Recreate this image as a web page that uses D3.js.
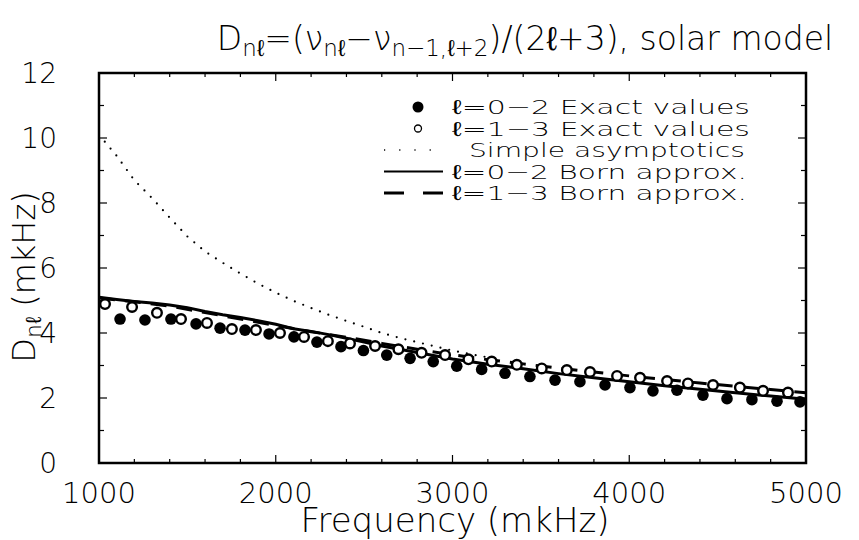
<!DOCTYPE html>
<html>
  <head>
    <meta charset="utf-8" />
    <title>Dnl solar model</title>
    <script src="https://d3js.org/d3.v7.min.js"></script>
    <style>
      body { margin: 0; background: #fff; }
      text { font-family: "DejaVu Sans", sans-serif; font-weight: 200; fill: #000; }
    </style>
  </head>
  <body>
    <svg width="859" height="540"></svg>
    <script>
      // l=0-2 exact values (filled)
      const freqA = [1119,1260,1407,1549,1685,1826,1962,2103,2233,2369,2496,2628,2760,2891,3024,3165,3297,3438,3580,3721,3863,4004,4134,4270,4417,4553,4694,4836,4966];
      const exactA = [4.43,4.40,4.43,4.28,4.15,4.09,3.97,3.88,3.72,3.58,3.46,3.32,3.22,3.12,2.98,2.88,2.76,2.66,2.55,2.50,2.40,2.32,2.22,2.24,2.09,1.98,1.95,1.90,1.88];
      // l=1-3 exact values (open)
      const freqB = [1034,1187,1328,1464,1611,1752,1888,2024,2160,2295,2420,2562,2694,2825,2958,3090,3222,3364,3505,3647,3778,3931,4061,4214,4332,4474,4626,4757,4898];
      const exactB = [4.89,4.80,4.62,4.43,4.31,4.12,4.09,4.00,3.88,3.75,3.68,3.60,3.50,3.39,3.32,3.19,3.12,3.02,2.91,2.86,2.80,2.68,2.62,2.52,2.45,2.40,2.32,2.22,2.17];
      // simple asymptotics (dotted)
      const freqAsym = [1000,1100,1200,1300,1400,1500,1600,1700,1800,1900,2000,2100,2200,2300,2400,2500,2600,2700,2800,2900,3000,3100,3200];
      const asym = [10.1,9.45,8.7,8.15,7.55,6.97,6.51,6.16,5.83,5.52,5.24,4.99,4.77,4.56,4.37,4.19,4.0,3.85,3.72,3.59,3.46,3.35,3.25];
      // Born approximations
      const freqBornA = [1000,1100,1200,1300,1400,1500,1600,1700,1800,1900,2000,2100,2200,2300,2400,2500,2600,2800,3000,3200,3400,3600,3800,4000,4200,4400,4600,4800,5000];
      const bornA = [5.1,5.03,4.97,4.92,4.86,4.78,4.66,4.56,4.48,4.38,4.27,4.13,4.05,3.95,3.84,3.72,3.6,3.4,3.2,3.04,2.9,2.75,2.62,2.5,2.38,2.27,2.16,2.06,1.96];
      const freqBornB = [1000,1200,1400,1600,1800,2000,2200,2400,2600,2800,3000,3200,3400,3600,3800,4000,4200,4400,4600,4800,5000];
      const bornB = [5.08,4.96,4.83,4.63,4.43,4.23,4.04,3.87,3.68,3.5,3.33,3.18,3.05,2.92,2.8,2.68,2.57,2.46,2.36,2.26,2.16];

      const xTicks = [1000,2000,3000,4000,5000];
      const yTicks = [0,2,4,6,8,10,12];

      const svg = d3.select("svg");
      const x = d3.scaleLinear().domain([1000,5000]).range([99,806]);
      const y = d3.scaleLinear().domain([0,12]).range([463,73]);

      const line = (fs, vs) => d3.line().x((d, i) => x(fs[i])).y(d => y(d))(vs);

      // frame
      svg.append("rect")
         .attr("x", 99).attr("y", 73)
         .attr("width", 806 - 99).attr("height", 463 - 73)
         .attr("fill", "none").attr("stroke", "#000").attr("stroke-width", 2.5);

      // ticks (inward) on all four sides
      const g = svg.append("g").attr("stroke", "#000").attr("stroke-width", 1.2);
      d3.range(1200, 5000, 200).forEach(f => {
        const len = xTicks.includes(f) ? 8 : 4;
        g.append("line").attr("x1", x(f)).attr("x2", x(f)).attr("y1", 463).attr("y2", 463 - len);
        g.append("line").attr("x1", x(f)).attr("x2", x(f)).attr("y1", 73).attr("y2", 73 + len);
      });
      d3.range(1, 12, 1).forEach(v => {
        const len = v % 2 === 0 ? 8 : 5;
        g.append("line").attr("x1", 99).attr("x2", 99 + len).attr("y1", y(v)).attr("y2", y(v));
        g.append("line").attr("x1", 806).attr("x2", 806 - len).attr("y1", y(v)).attr("y2", y(v));
      });

      // tick labels
      svg.selectAll(".xl").data(xTicks).enter().append("text")
         .attr("x", d => x(d)).attr("y", 503)
         .attr("text-anchor", "middle").attr("font-size", 29)
         .text(d => d);
      svg.selectAll(".yl").data(yTicks).enter().append("text")
         .attr("x", 57).attr("y", d => y(d) + 10)
         .attr("text-anchor", "end").attr("font-size", 28)
         .text(d => d);

      // axis titles
      svg.append("text").attr("x", 455).attr("y", 532)
         .attr("text-anchor", "middle").attr("font-size", 34)
         .text("Frequency (mkHz)");

      const yl = svg.append("text")
         .attr("transform", "translate(35,277) rotate(-90)")
         .attr("text-anchor", "middle").attr("font-size", 32);
      yl.append("tspan").text("D");
      yl.append("tspan").attr("font-size", 22).attr("dy", 6).text("nℓ");
      yl.append("tspan").attr("dy", -6).text(" (mkHz)");

      // title
      const t = svg.append("text").attr("x", 525).attr("y", 50)
         .attr("text-anchor", "middle").attr("font-size", 33);
      t.append("tspan").text("D");
      t.append("tspan").attr("font-size", 23).attr("dy", 6).text("nℓ");
      t.append("tspan").attr("dy", -6).text("=(ν");
      t.append("tspan").attr("font-size", 23).attr("dy", 6).text("nℓ");
      t.append("tspan").attr("dy", -6).text("−ν");
      t.append("tspan").attr("font-size", 23).attr("dy", 6).text("n−1,ℓ+2");
      t.append("tspan").attr("dy", -6).text(")/(2ℓ+3), solar model");

      // curves
      svg.append("path").attr("d", line(freqAsym, asym))
         .attr("fill", "none").attr("stroke", "#000").attr("stroke-width", 2.2)
         .attr("stroke-dasharray", "0 9").attr("stroke-linecap", "round");
      svg.append("path").attr("d", line(freqBornA, bornA))
         .attr("fill", "none").attr("stroke", "#000").attr("stroke-width", 3);
      svg.append("path").attr("d", line(freqBornB, bornB))
         .attr("fill", "none").attr("stroke", "#000").attr("stroke-width", 3)
         .attr("stroke-dasharray", "16 10");

      // exact values
      svg.selectAll(".pa").data(exactA).enter().append("circle")
         .attr("cx", (d, i) => x(freqA[i])).attr("cy", d => y(d))
         .attr("r", 5.8).attr("fill", "#000");
      svg.selectAll(".pb").data(exactB).enter().append("circle")
         .attr("cx", (d, i) => x(freqB[i])).attr("cy", d => y(d))
         .attr("r", 4.8).attr("fill", "#fff").attr("stroke", "#000").attr("stroke-width", 2.4);

      // legend
      const lg = svg.append("g");
      const rows = [
        { sym: "filled", label: "ℓ=0−2 Exact values", x0: 452, w: 298 },
        { sym: "open", label: "ℓ=1−3 Exact values", x0: 452, w: 298 },
        { sym: "dot", label: "Simple asymptotics", x0: 469, w: 276 },
        { sym: "solid", label: "ℓ=0−2 Born approx.", x0: 452, w: 295 },
        { sym: "dash", label: "ℓ=1−3 Born approx.", x0: 452, w: 295 }
      ];
      rows.forEach((r, i) => {
        const yy = 107 + i * 21.5;
        if (r.sym === "filled") lg.append("circle").attr("cx", 418).attr("cy", yy).attr("r", 5.5).attr("fill", "#000");
        if (r.sym === "open") lg.append("circle").attr("cx", 418).attr("cy", yy).attr("r", 3.5).attr("fill", "#fff").attr("stroke", "#000").attr("stroke-width", 1.3);
        if (r.sym === "dot") lg.append("line").attr("x1", 384).attr("x2", 444).attr("y1", yy).attr("y2", yy)
           .attr("stroke", "#000").attr("stroke-width", 1.5).attr("stroke-dasharray", "1.2 14");
        if (r.sym === "solid") lg.append("line").attr("x1", 384).attr("x2", 443).attr("y1", yy).attr("y2", yy)
           .attr("stroke", "#000").attr("stroke-width", 2);
        if (r.sym === "dash") lg.append("line").attr("x1", 384).attr("x2", 443).attr("y1", yy).attr("y2", yy)
           .attr("stroke", "#000").attr("stroke-width", 3).attr("stroke-dasharray", "20 19");
        lg.append("text").attr("x", r.x0).attr("y", yy + 7).attr("font-size", 20)
          .attr("textLength", r.w).attr("lengthAdjust", "spacingAndGlyphs")
          .text(r.label);
      });
    </script>
  </body>
</html>
